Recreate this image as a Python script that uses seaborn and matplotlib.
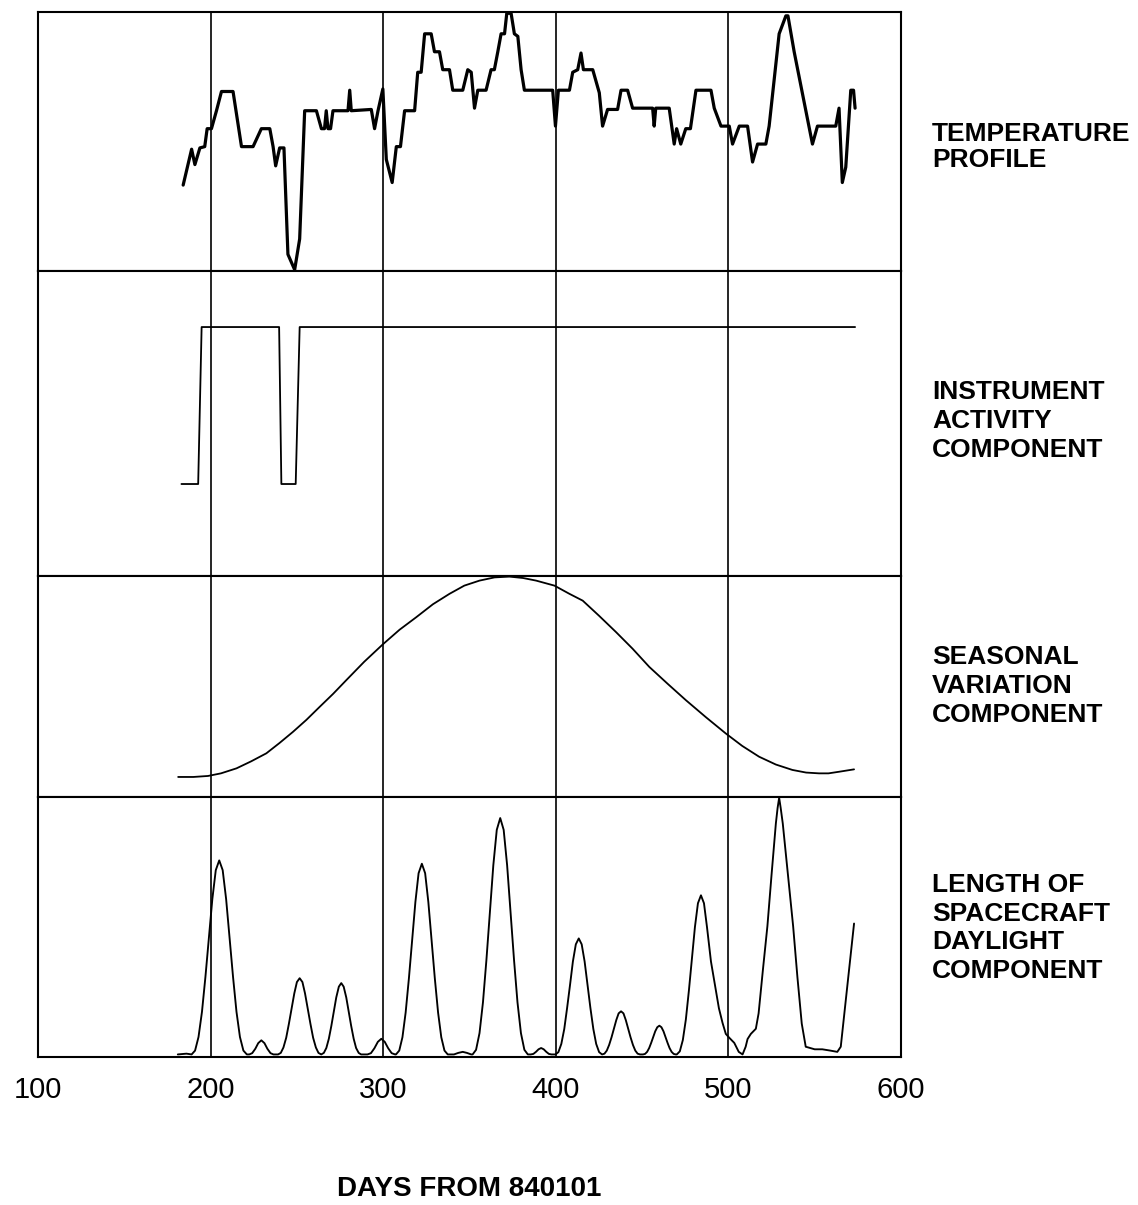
import matplotlib
matplotlib.use("Agg")
import matplotlib.pyplot as plt
import seaborn as sns
import pandas as pd

# ---------------- data ----------------
TEMP_DAY = [184.1, 189.0, 190.9, 193.8, 196.6, 198.0, 200.5, 203.4, 206.3, 213.0,
            217.9, 224.6, 229.4, 234.3, 236.2, 237.7, 240.0, 242.5, 244.8, 248.7,
            251.6, 254.5, 261.3, 264.2, 266.0, 267.0, 268.0, 269.5, 270.9, 279.6,
            280.6, 281.5, 293.1, 295.0, 297.0, 299.8, 301.8, 305.2, 307.6, 310.0,
            312.4, 318.2, 320.0, 322.0, 324.0, 327.8, 329.7, 332.6, 334.5, 338.4,
            340.3, 346.1, 349.0, 351.0, 352.9, 354.8, 359.6, 362.5, 364.4, 366.4,
            368.3, 370.3, 371.6, 374.1, 376.0, 378.0, 379.9, 381.8, 398.2, 399.8,
            401.5, 407.9, 409.8, 412.7, 414.6, 416.0, 421.4, 425.2, 427.1, 430.0,
            435.8, 437.8, 441.6, 444.5, 456.1, 457.0, 457.9, 465.7, 468.6, 470.0,
            472.4, 475.3, 478.0, 481.2, 489.9, 491.8, 495.7, 500.5, 502.4, 506.3,
            511.1, 514.0, 516.9, 521.7, 523.6, 529.4, 533.3, 534.5, 538.1, 548.7,
            551.6, 562.2, 564.1, 566.0, 568.0, 570.9, 572.5, 573.4]
TEMP_VAL = [0.33, 0.47, 0.41, 0.475, 0.48, 0.55, 0.55, 0.62, 0.695, 0.695,
            0.48, 0.48, 0.55, 0.55, 0.48, 0.405, 0.475, 0.475, 0.06, 0.0,
            0.12, 0.62, 0.62, 0.55, 0.55, 0.62, 0.55, 0.55, 0.62, 0.62,
            0.70, 0.62, 0.625, 0.55, 0.62, 0.705, 0.43, 0.34, 0.48, 0.48,
            0.62, 0.62, 0.77, 0.77, 0.92, 0.92, 0.85, 0.85, 0.78, 0.78,
            0.70, 0.70, 0.78, 0.77, 0.63, 0.70, 0.70, 0.78, 0.78, 0.85,
            0.92, 0.92, 1.0, 1.0, 0.92, 0.91, 0.78, 0.70, 0.70, 0.56,
            0.70, 0.70, 0.77, 0.78, 0.845, 0.78, 0.78, 0.69, 0.56, 0.625,
            0.625, 0.70, 0.70, 0.63, 0.63, 0.56, 0.63, 0.63, 0.49, 0.55,
            0.49, 0.55, 0.55, 0.70, 0.70, 0.63, 0.56, 0.56, 0.49, 0.56,
            0.56, 0.42, 0.49, 0.49, 0.56, 0.92, 0.99, 0.99, 0.85, 0.49,
            0.56, 0.56, 0.63, 0.34, 0.40, 0.70, 0.70, 0.63]

INSTR_DAY = [183.1, 192.8, 194.8, 239.7, 241.0, 249.3, 251.6, 573.4]
INSTR_VAL = [0, 0, 1, 1, 0, 0, 1, 1]

SEASON_DAY = [181.2, 190.0, 198.5, 206.0, 215.0, 223.5, 232.3, 240.0, 247.7, 255.5,
              263.2, 271.0, 278.6, 289.0, 299.8, 309.5, 319.1, 328.8, 338.4, 347.0,
              355.8, 364.5, 373.1, 381.0, 388.6, 399.2, 407.9, 415.6, 425.0, 434.9,
              444.5, 454.2, 464.8, 475.4, 487.0, 498.5, 508.0, 517.8, 527.5, 537.1,
              545.0, 552.5, 558.0, 564.1, 572.8]
SEASON_VAL = [0.0, 0.0, 0.005, 0.018, 0.043, 0.078, 0.118, 0.17, 0.225, 0.285,
              0.35, 0.415, 0.483, 0.575, 0.662, 0.735, 0.797, 0.862, 0.914, 0.955,
              0.98, 0.996, 1.0, 0.993, 0.98, 0.955, 0.914, 0.88, 0.805, 0.723,
              0.64, 0.549, 0.465, 0.383, 0.298, 0.217, 0.155, 0.101, 0.062, 0.035,
              0.022, 0.018, 0.018, 0.026, 0.038]

DAYL_DAY = [181, 186,
            189, 191, 193, 195, 197, 199, 201, 203, 205, 207, 209, 211, 213, 215, 217, 219, 221,
            222.4, 224.1, 225.9, 227.6, 229.4, 231.2, 232.9, 234.7, 236.4,
            239.1, 240.66, 242.2, 243.8, 245.35, 246.9, 248.5, 250.0, 251.6, 253.2, 254.7,
            256.3, 257.85, 259.4, 261.0, 262.5, 264.1,
            265.6, 267.05, 268.5, 269.95, 271.4, 272.8, 274.3, 275.7, 277.1, 278.6, 280.0,
            281.45, 282.9, 284.3, 285.8, 287.2,
            290.9, 292.9, 294.9, 296.9, 298.9, 300.9, 302.9, 304.9, 306.9,
            307.4, 309.3, 311.15, 313.0, 314.9, 316.8, 318.65, 320.5, 322.4, 324.3, 326.15,
            328.0, 329.9, 331.8, 333.65, 335.5, 337.4,
            341.0, 343.5, 346.1, 348.5, 351.0,
            351.8, 353.8, 355.8, 357.8, 359.8, 361.8, 363.8, 365.8, 367.8, 369.8, 371.8,
            373.8, 375.8, 377.8, 379.8, 381.8, 383.8,
            385.5, 387.0, 388.5, 390.0, 391.5, 393.0, 394.5, 396.0, 397.5,
            399.8, 401.5, 403.2, 404.9, 406.55, 408.25, 409.9, 411.6, 413.3, 415.0, 416.7,
            418.4, 420.05, 421.75, 423.4, 425.1, 426.8,
            428.2, 429.55, 430.9, 432.3, 433.7, 435.05, 436.4, 437.8, 439.2, 440.55, 441.9,
            443.3, 444.7, 446.05, 447.4, 448.8,
            450.5, 451.7, 452.9, 454.1, 455.25, 456.4, 457.6, 458.8, 460.0, 461.2, 462.4,
            463.6, 464.75, 465.9, 467.1, 468.3, 469.5,
            470.1, 471.85, 473.6, 475.35, 477.1, 478.85, 480.6, 482.35, 484.1, 485.85, 487.6,
            489.9, 492.5, 494.5, 496.6, 498.5, 500.5, 503.4, 506.0, 508.2,
            510.0, 511.1, 513.0, 515.9, 517.5, 520.0, 522.6, 525.0, 527.5, 528.5, 529.4, 530.3,
            531.5, 534.5, 537.5, 540.0, 542.5, 544.8,
            550.0, 554.4, 559.0, 563.1, 565.1, 572.8]
DAYL_VAL = [0.0, 0.003,
            0.0, 0.015, 0.068, 0.166, 0.302, 0.454, 0.605, 0.718, 0.756, 0.718, 0.605, 0.454,
            0.302, 0.166, 0.068, 0.015, 0.0,
            0.0, 0.005, 0.022, 0.044, 0.055, 0.044, 0.022, 0.005, 0.0,
            0.0, 0.006, 0.027, 0.065, 0.119, 0.178, 0.238, 0.282, 0.297, 0.282, 0.238,
            0.178, 0.119, 0.065, 0.027, 0.006, 0.0,
            0.006, 0.025, 0.061, 0.111, 0.167, 0.222, 0.264, 0.278, 0.264, 0.222, 0.167,
            0.111, 0.061, 0.025, 0.006, 0.0,
            0.0, 0.005, 0.024, 0.049, 0.061, 0.049, 0.024, 0.005, 0.0,
            0.0, 0.015, 0.067, 0.163, 0.297, 0.446, 0.594, 0.706, 0.743, 0.706, 0.594,
            0.446, 0.297, 0.163, 0.067, 0.015, 0.0,
            0.0, 0.006, 0.01, 0.006, 0.0,
            0.0, 0.018, 0.083, 0.203, 0.368, 0.553, 0.737, 0.875, 0.921, 0.875, 0.737,
            0.553, 0.368, 0.203, 0.083, 0.018, 0.0,
            0.0, 0.002, 0.01, 0.02, 0.025, 0.02, 0.01, 0.002, 0.0,
            0.0, 0.009, 0.041, 0.099, 0.181, 0.271, 0.362, 0.429, 0.452, 0.429, 0.362,
            0.271, 0.181, 0.099, 0.041, 0.009, 0.0,
            0.003, 0.015, 0.037, 0.067, 0.101, 0.134, 0.160, 0.168, 0.160, 0.134, 0.101,
            0.067, 0.037, 0.015, 0.003, 0.0,
            0.0, 0.002, 0.010, 0.025, 0.045, 0.067, 0.090, 0.106, 0.112, 0.106, 0.090,
            0.067, 0.045, 0.025, 0.010, 0.002, 0.0,
            0.0, 0.012, 0.056, 0.136, 0.248, 0.372, 0.496, 0.589, 0.62, 0.589, 0.496,
            0.362, 0.26, 0.18, 0.123, 0.08, 0.065, 0.045, 0.01, 0.0,
            0.03, 0.06, 0.08, 0.10, 0.16, 0.33, 0.50, 0.70, 0.90, 0.96, 1.0, 0.96,
            0.90, 0.70, 0.50, 0.30, 0.12, 0.03,
            0.02, 0.02, 0.015, 0.01, 0.03, 0.51]

PANEL_LABELS = ["TEMPERATURE\nPROFILE",
                "INSTRUMENT\nACTIVITY\nCOMPONENT",
                "SEASONAL\nVARIATION\nCOMPONENT",
                "LENGTH OF\nSPACECRAFT\nDAYLIGHT\nCOMPONENT"]
X_TICKS = [100, 200, 300, 400, 500, 600]
GRID_DAYS = [200, 300, 400, 500]
X_LABEL = "DAYS FROM 840101"

# ---------------- style ----------------
sns.set_style("white")
plt.rcParams["font.family"] = ["Liberation Sans", "DejaVu Sans"]
plt.rcParams["text.color"] = "black"
plt.rcParams["xtick.color"] = "black"
plt.rcParams["axes.labelcolor"] = "black"

W, H = 1138, 1205
fig = plt.figure(figsize=(W / 100, H / 100), dpi=100)

left = 38 / W
width = (901 - 38) / W
bounds_px = [(12, 271), (271, 576), (576, 797), (797, 1057)]
ylims = [(-0.005, 1.005), (-0.586, 1.357), (-0.1, 1.003), (-0.01, 1.003)]
series = [(TEMP_DAY, TEMP_VAL, 2.3), (INSTR_DAY, INSTR_VAL, 1.3),
          (SEASON_DAY, SEASON_VAL, 1.3), (DAYL_DAY, DAYL_VAL, 1.35)]
label_centers = [147, 421, 686, 928]
label_spacing = [1.15, 1.25, 1.25, 1.25]

for i, ((top, bot), ylim, (xd, yd, lw)) in enumerate(zip(bounds_px, ylims, series)):
    ax = fig.add_axes([left, 1 - bot / H, width, (bot - top) / H])
    df = pd.DataFrame({"day": xd, "value": yd})
    sns.lineplot(data=df, x="day", y="value", ax=ax, color="black", linewidth=lw,
                 estimator=None, sort=False, zorder=3)
    for g in GRID_DAYS:
        ax.axvline(g, color="black", linewidth=1.2, zorder=2)
    ax.set_xlim(100, 600)
    ax.set_ylim(*ylim)
    ax.set_yticks([])
    ax.set_xlabel("")
    ax.set_ylabel("")
    for s in ax.spines.values():
        s.set_color("black")
        s.set_linewidth(1.5)
    if i < 3:
        ax.set_xticks([])
    else:
        ax.set_xticks(X_TICKS)
        ax.set_xticklabels([str(t) for t in X_TICKS])
        ax.tick_params(axis="x", length=0, pad=14, labelsize=21, labelcolor="black")
    fig.text(932 / W, 1 - label_centers[i] / H, PANEL_LABELS[i], ha="left", va="center",
             fontsize=19, fontweight="bold", linespacing=label_spacing[i], color="black")

fig.text(469 / W, 1 - 1189 / H, X_LABEL, ha="center", va="center",
         fontsize=20, fontweight="bold", color="black")

fig.savefig("out.png", dpi=100)
